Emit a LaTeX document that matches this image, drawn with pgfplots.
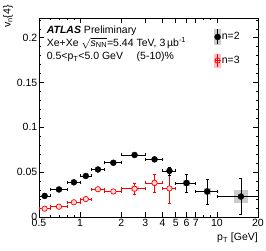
\documentclass[border=0pt]{standalone}
\usepackage{fontspec}
\setmainfont{Liberation Sans}
\usepackage{amsmath}
\usepackage{pgfplots}
\pgfplotsset{compat=1.18}
\usepackage{pgfplotstable}

\pgfplotstableread{
x    exm  exp  y      ey
0.55 0.05 0.05 0.0235 0.0012
0.7  0.1  0.1  0.0307 0.0012
0.9  0.1  0.1  0.0387 0.0012
1.1  0.1  0.1  0.0458 0.0012
1.35 0.15 0.15 0.0530 0.0012
1.75 0.25 0.25 0.0605 0.0012
2.5  0.5  0.5  0.0692 0.0012
3.5  0.5  0.5  0.0643 0.0015
4.5  0.5  0.5  0.0515 0.0045
6    1    1    0.0379 0.0100
8.5  1.5  1.5  0.0285 0.0140
15   5    5    0.0228 0.0200
}\blackdata

\pgfplotstableread{
x    exm  exp  y      ey
0.55 0.05 0.05 0.0093 0.0010
0.7  0.1  0.1  0.0115 0.0010
0.9  0.1  0.1  0.0164 0.0012
1.1  0.1  0.1  0.0200 0.0012
1.35 0.15 0.15 0.0310 0.0015
1.75 0.25 0.25 0.0285 0.0025
2.5  0.5  0.5  0.0315 0.0060
3.5  0.5  0.5  0.0380 0.0100
4.5  0.5  0.5  0.0319 0.0170
}\reddata

\begin{document}
\begin{tikzpicture}
\useasboundingbox (-39pt,-33pt) rectangle (227pt,217pt);
\begin{axis}[
  at={(0,0)}, anchor=south west,
  width=219pt, height=199pt, scale only axis,
  xmode=log, xmin=0.5, xmax=20, ymin=0, ymax=0.222,
  xtick={0.5,1,2,3,4,5,6,7,10,20},
  xticklabels={0.5,1,2,3,4,5,6,7,10,20},
  minor xtick={0.6,0.7,0.8,0.9,8,9},
  ytick={0,0.05,0.1,0.15,0.2},
  yticklabels={0,0.05,0.1,0.15,0.2},
  minor ytick={0.01,0.02,0.03,0.04,0.06,0.07,0.08,0.09,0.11,0.12,0.13,0.14,0.16,0.17,0.18,0.19,0.21,0.22},
  tick align=inside,
  major tick length=5pt, minor tick length=2.5pt,
  tick style={black, line width=0.5pt},
  axis line style={line width=0.6pt},
  /pgf/number format/assume math mode=true,
  ticklabel style={font=\fontsize{10.5}{12}\selectfont},
  yticklabel style={inner xsep=1.5pt},
  xticklabel style={inner ysep=2pt},
  ylabel={v\textsubscript{n}\{4\}},
  every axis y label/.style={at={(axis description cs:-0.142,1.065)}, rotate=90, anchor=east, inner sep=0pt, font=\fontsize{10.5}{12}\selectfont},
  xlabel={p\textsubscript{T} [GeV]},
  every axis x label/.style={at={(axis description cs:1,-0.08)}, anchor=north east, inner sep=0pt, font=\fontsize{10.5}{12}\selectfont},
  legend style={at={(rel axis cs:0.80,0.945)}, anchor=north west, draw=none, fill=none, inner sep=0pt, row sep=9pt, font=\fontsize{10.5}{12}\selectfont, nodes={inner xsep=1pt, inner ysep=0pt}},
  legend cell align=left,
]
\addlegendimage{legend image code/.code={
  \fill[gray!40] (-3pt,-7.5pt) rectangle (3pt,7.5pt);
  \draw[black, line width=0.6pt] (0pt,-7.5pt) -- (0pt,7.5pt);
  \fill[black] (0pt,0pt) circle (3pt);}}
\addlegendimage{legend image code/.code={
  \fill[red!25] (-3pt,-6.5pt) rectangle (3pt,6.5pt);
  \draw[red, line width=0.6pt] (0pt,-6.5pt) -- (0pt,6.5pt);
  \draw[red, line width=0.6pt] (-2.7pt,0pt) -- (2.7pt,0pt);
  \draw[red, line width=0.7pt] (0pt,0pt) circle (2.7pt);}}
\legend{n=2,n=3}

% systematic boxes
\addplot[fill=gray!40, draw=none, forget plot] coordinates {(5.67,0.0349) (6.35,0.0349) (6.35,0.0409) (5.67,0.0409)} --cycle;
\addplot[fill=gray!40, draw=none, forget plot] coordinates {(8.01,0.0248) (9.02,0.0248) (9.02,0.0322) (8.01,0.0322)} --cycle;
\addplot[fill=gray!40, draw=none, forget plot] coordinates {(13.37,0.0160) (16.83,0.0160) (16.83,0.0296) (13.37,0.0296)} --cycle;
\addplot[fill=red!25, draw=none, forget plot] coordinates {(1.30,0.0290) (1.40,0.0290) (1.40,0.0330) (1.30,0.0330)} --cycle;
\addplot[fill=red!25, draw=none, forget plot] coordinates {(1.67,0.0265) (1.84,0.0265) (1.84,0.0305) (1.67,0.0305)} --cycle;
\addplot[fill=red!25, draw=none, forget plot] coordinates {(2.34,0.0285) (2.68,0.0285) (2.68,0.0345) (2.34,0.0345)} --cycle;
\addplot[fill=red!25, draw=none, forget plot] coordinates {(3.34,0.0350) (3.67,0.0350) (3.67,0.0410) (3.34,0.0410)} --cycle;
\addplot[fill=red!25, draw=none, forget plot] coordinates {(4.33,0.0290) (4.67,0.0290) (4.67,0.0350) (4.33,0.0350)} --cycle;

% red n=3
\addplot[only marks, mark=*, mark size=2.7pt, mark options={draw=red, fill=red!15, line width=0.7pt},
  error bars/.cd, x dir=both, x explicit, y dir=both, y explicit,
  error bar style={red, line width=0.6pt},
  error mark options={rotate=90, mark size=1.5pt, line width=0.6pt, red}]
  table[x=x, y=y, x error minus=exm, x error plus=exp, y error=ey] {\reddata};

% black n=2
\addplot[only marks, mark=*, mark size=3pt, mark options={fill=black, draw=black},
  error bars/.cd, x dir=both, x explicit, y dir=both, y explicit,
  error bar style={black, line width=0.6pt},
  error mark options={rotate=90, mark size=1.5pt, line width=0.6pt, black}]
  table[x=x, y=y, x error minus=exm, x error plus=exp, y error=ey] {\blackdata};

\node[anchor=west, inner sep=0pt, font=\fontsize{10.5}{12}\selectfont] at (rel axis cs:0.035,0.936) {\textbf{\textit{ATLAS}} Preliminary};
\node[anchor=west, inner sep=0pt, font=\fontsize{10.5}{12}\selectfont] at (rel axis cs:0.035,0.873) {Xe+Xe $\sqrt{\textit{s}_{\text{NN}}}$=5.44 TeV, 3\,µb\textsuperscript{-1}};
\node[anchor=west, inner sep=0pt, font=\fontsize{10.5}{12}\selectfont] at (rel axis cs:0.035,0.803) {0.5<p\textsubscript{T}<5.0 GeV\hspace{1.3em}(5-10)\%};
\end{axis}
\end{tikzpicture}
\end{document}
